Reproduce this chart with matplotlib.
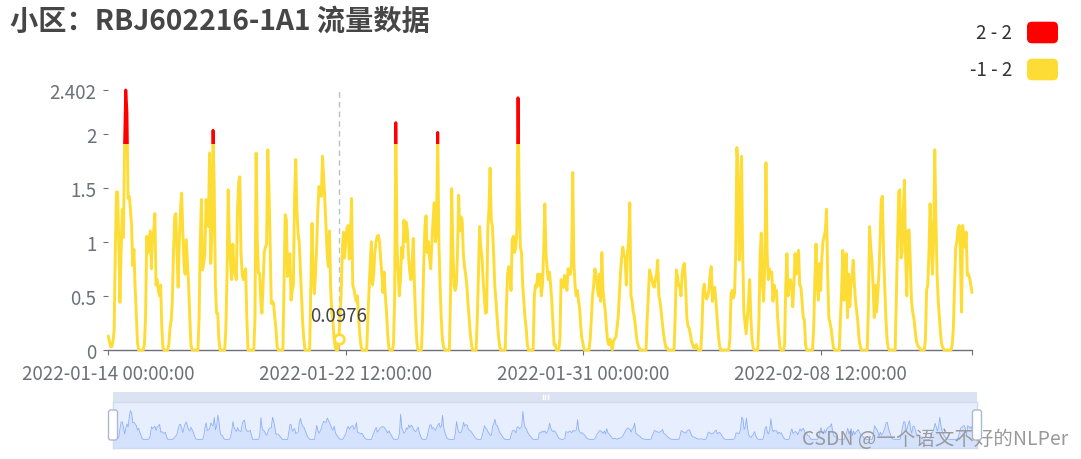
import numpy as np
import pandas as pd
import matplotlib
matplotlib.use('Agg')
import matplotlib.pyplot as plt
import matplotlib.dates as mdates
from matplotlib.patches import Rectangle, FancyBboxPatch
from matplotlib.lines import Line2D
from matplotlib.transforms import IdentityTransform

plt.rcParams['font.family'] = ['Noto Sans CJK SC', 'DejaVu Sans']

# ---------------- data ----------------
title_text = '小区：RBJ602216-1A1 流量数据'
start_time = '2022-01-14 00:00:00'
x_tick_labels = ['2022-01-14 00:00:00', '2022-01-22 12:00:00',
                 '2022-01-31 00:00:00', '2022-02-08 12:00:00']
y_ticks = [0, 0.5, 1, 1.5, 2, 2.402]
y_tick_labels = ['0', '0.5', '1', '1.5', '2', '2.402']
piece_labels = ['2 - 2', '-1 - 2']
piece_colors = ['#FF0000', '#FDDD35']
threshold = 1.9
hover_time = '2022-01-22 06:00:00'
hover_value = 0.0976
watermark = 'CSDN @一个语文不好的NLPer'

# hourly flow values, one list per day
jan14 = [0.13, 0.08, 0.03, 0.03, 0.08, 0.18, 0.9, 1.46, 1.46, 1.0, 0.44, 0.9, 1.3, 1.04, 1.9, 2.402, 2.2, 1.4, 1.42, 1.3, 1.15, 0.78, 0.93, 0.59]
jan15 = [0.35, 0.08, 0, 0, 0, 0, 0, 0.05, 0.3, 1.05, 0.9, 1.0, 1.1, 0.75, 1.05, 1.1, 1.26, 0.6, 0.65, 0.55, 0.5, 0.6, 0.2, 0.02]
jan16 = [0, 0, 0, 0, 0.05, 0.2, 0.27, 0.45, 0.9, 1.23, 1.26, 0.9, 0.58, 1.0, 1.3, 1.45, 1.1, 0.8, 0.7, 1.02, 0.8, 0.6, 0.3, 0.05]
jan17 = [0, 0, 0, 0, 0, 0, 0.3, 1.0, 1.39, 0.74, 0.8, 0.9, 1.39, 1.2, 1.14, 1.82, 0.8, 1.1, 2.03, 1.5, 0.6, 0.34, 0.34, 0.1]
jan18 = [0, 0, 0, 0, 0, 0.2, 0.7, 1.48, 1.0, 0.8, 0.65, 0.98, 0.75, 0.7, 0.65, 1.3, 1.55, 1.6, 0.9, 0.7, 0.65, 0.71, 0.75, 0.3]
jan19 = [0, 0, 0, 0, 0, 0, 0.3, 1.82, 1.0, 0.71, 0.71, 0.45, 0.34, 0.61, 0.9, 0.95, 0.98, 1.85, 1.5, 1.0, 0.43, 0.45, 0.43, 0.3]
jan20 = [0.2, 0.03, 0, 0, 0, 0, 0, 0.6, 1.25, 1.2, 0.68, 0.8, 0.89, 0.46, 0.55, 0.6, 1.4, 1.76, 1.3, 1.08, 1.0, 0.75, 0.5, 0.25]
jan21 = [0.1, 0, 0, 0, 0, 0, 0.6, 1.17, 0.71, 0.52, 0.7, 0.95, 1.3, 1.51, 1.45, 1.42, 1.79, 1.6, 1.39, 1.14, 0.9, 0.77, 1.1, 0.58]
jan22 = [0.35, 0.27, 0.1, 0.02, 0, 0, 0.0976, 0.3, 0.5, 0.9, 1.09, 0.85, 1.0, 1.12, 1.15, 0.84, 1.0, 1.4, 0.6, 0.56, 0.5, 0.45, 0.5, 0.3]
jan23 = [0.15, 0.04, 0, 0, 0, 0, 0, 0.3, 0.55, 0.8, 1.0, 0.6, 0.7, 0.9, 1.0, 1.05, 1.06, 1.0, 0.85, 0.7, 0.53, 0.72, 0.5, 0.35]
jan24 = [0.15, 0.02, 0, 0, 0, 0.05, 0.5, 2.1, 1.0, 0.7, 0.5, 0.65, 0.95, 0.85, 1.2, 1.0, 1.18, 1.1, 0.85, 0.72, 0.65, 0.8, 1.03, 0.6]
jan25 = [0.3, 0.08, 0, 0, 0, 0, 0.3, 0.8, 1.15, 1.24, 0.9, 1.0, 0.85, 0.75, 1.0, 1.2, 1.36, 1.0, 1.1, 2.01, 1.0, 0.6, 0.3, 0.1]
jan26 = [0.03, 0, 0, 0, 0, 0, 0.5, 1.49, 0.95, 0.6, 0.55, 0.6, 0.9, 1.43, 1.1, 1.23, 1.2, 0.9, 0.77, 0.7, 0.6, 0.43, 0.3, 0.15]
jan27 = [0.05, 0, 0, 0, 0, 0.3, 0.7, 1.14, 0.95, 0.86, 0.65, 0.5, 0.34, 0.35, 1.1, 1.3, 1.68, 1.2, 1.14, 0.9, 0.6, 0.46, 0.3, 0.15]
jan28 = [0.05, 0, 0, 0, 0, 0, 0.4, 0.7, 0.77, 0.7, 0.55, 1.02, 1.05, 0.9, 0.95, 1.1, 2.33, 1.4, 0.95, 0.9, 0.6, 0.45, 0.3, 0.2]
jan29 = [0.05, 0, 0, 0, 0, 0, 0.5, 0.6, 0.58, 0.7, 0.6, 0.7, 0.5, 0.6, 0.9, 1.35, 0.9, 0.75, 0.65, 0.72, 0.6, 0.45, 0.25, 0.05]
jan30 = [0.05, 0, 0, 0, 0.1, 0.65, 0.6, 0.58, 0.69, 0.65, 0.55, 0.75, 0.7, 0.7, 0.8, 1.64, 0.8, 0.6, 0.5, 0.55, 0.45, 0.37, 0.2, 0.1]
jan31 = [0.05, 0, 0, 0, 0, 0, 0.1, 0.29, 0.5, 0.6, 0.75, 0.7, 0.6, 0.5, 0.7, 0.45, 0.9, 0.55, 0.45, 0.35, 0.2, 0.08, 0.05, 0.1]
feb01 = [0.05, 0.0, 0.08, 0.1, 0.12, 0.2, 0.3, 0.5, 0.7, 0.85, 0.95, 0.88, 0.85, 0.6, 0.9, 1.0, 1.36, 0.5, 0.45, 0.35, 0.3, 0.2, 0.1, 0.05]
feb02 = [0.02, 0, 0, 0, 0, 0, 0, 0.3, 0.52, 0.74, 0.7, 0.65, 0.6, 0.58, 0.65, 0.7, 0.83, 0.5, 0.45, 0.35, 0.25, 0.15, 0.08, 0.02]
feb03 = [0.02, 0, 0, 0, 0, 0, 0, 0.3, 0.74, 0.68, 0.6, 0.58, 0.5, 0.7, 0.78, 0.8, 0.58, 0.3, 0.22, 0.2, 0.15, 0.08, 0.05, 0.02]
feb04 = [0.02, 0.05, 0.02, 0, 0, 0, 0.2, 0.55, 0.61, 0.5, 0.47, 0.5, 0.55, 0.7, 0.77, 0.45, 0.55, 0.58, 0.45, 0.3, 0.15, 0.05, 0, 0]
feb05 = [0, 0, 0, 0, 0, 0, 0.1, 0.52, 0.55, 0.48, 0.52, 0.9, 1.87, 1.7, 0.83, 1.0, 1.79, 0.9, 0.35, 0.25, 0.15, 0.3, 0.45, 0.65]
feb06 = [0.3, 0.1, 0.02, 0, 0, 0, 0, 0.3, 0.9, 1.08, 0.6, 0.45, 0.8, 1.73, 0.9, 0.65, 0.75, 0.7, 0.72, 0.45, 0.6, 0.5, 0.55, 0.3]
feb07 = [0.15, 0.02, 0, 0, 0, 0.05, 0.6, 0.89, 0.5, 0.6, 0.65, 0.6, 0.4, 0.6, 0.89, 0.7, 0.85, 0.92, 0.6, 0.58, 0.45, 0.3, 0.28, 0.05]
feb08 = [0, 0, 0, 0, 0, 0, 0.2, 0.65, 0.98, 0.6, 0.46, 0.8, 0.55, 0.85, 1.0, 1.05, 1.1, 1.3, 0.7, 0.3, 0.25, 0.2, 0.1, 0.02]
feb09 = [0, 0, 0, 0, 0, 0.3, 0.55, 0.92, 0.46, 0.7, 0.89, 0.3, 0.7, 0.4, 0.6, 0.7, 0.83, 0.6, 0.45, 0.35, 0.25, 0.1, 0.03, 0]
feb10 = [0, 0, 0, 0, 0, 0.4, 1.14, 0.95, 0.83, 0.6, 0.3, 0.6, 0.35, 0.5, 0.7, 1.0, 1.39, 1.42, 0.9, 0.6, 0.3, 0.1, 0.02, 0]
feb11 = [0, 0, 0, 0, 0, 0.5, 1.0, 1.46, 1.48, 0.85, 0.9, 1.3, 1.57, 0.85, 0.5, 1.1, 1.11, 0.8, 0.46, 0.35, 0.3, 0.2, 0.1, 0.05]
feb12 = [0.03, 0.02, 0, 0, 0, 0, 0.1, 0.55, 0.6, 0.9, 1.35, 1.05, 0.7, 1.0, 1.85, 1.2, 0.7, 0.45, 0.3, 0.15, 0.05, 0.02, 0, 0]
feb13 = [0, 0, 0, 0, 0, 0.05, 0.2, 0.6, 0.95, 1.0, 1.12, 1.15, 0.9, 0.35, 1.15, 1.03, 0.95, 1.09, 0.69, 0.7, 0.66, 0.6, 0.53]

days = [jan14, jan15, jan16, jan17, jan18, jan19, jan20, jan21, jan22, jan23,
        jan24, jan25, jan26, jan27, jan28, jan29, jan30, jan31, feb01, feb02,
        feb03, feb04, feb05, feb06, feb07, feb08, feb09, feb10, feb11, feb12, feb13]
flow = np.concatenate([np.asarray(d, dtype=float) for d in days])
times = pd.date_range(start_time, periods=len(flow), freq='h')
tnum = mdates.date2num(times.to_pydatetime())

# ---------------- figure ----------------
W, H = 1081, 460
fig = plt.figure(figsize=(W / 100, H / 100), dpi=100)
fig.patch.set_facecolor('white')

def fx(x):
    return x / W

def fy(y):
    return 1 - y / H

axis_gray = '#6E7079'
ax = fig.add_axes([fx(108.3), fy(351), (972 - 108.3) / W, (351 - 91) / H])
ax.set_xlim(tnum[0], tnum[-1])
ax.set_ylim(0, max(y_ticks))
for s in ['top', 'right', 'left']:
    ax.spines[s].set_visible(False)
ax.spines['bottom'].set_color(axis_gray)
ax.spines['bottom'].set_linewidth(1)

tick_pos = list(mdates.date2num(pd.to_datetime(x_tick_labels).to_pydatetime())) + [tnum[-1]]
ax.set_xticks(tick_pos)
ax.set_xticklabels(x_tick_labels + [''])
ax.set_yticks(y_ticks)
ax.set_yticklabels(y_tick_labels)
ax.tick_params(axis='x', length=3.6, width=0.8, color=axis_gray, pad=5.5,
               labelsize=13.5, labelcolor=axis_gray)
ax.tick_params(axis='y', length=3.6, width=0.8, color=axis_gray, pad=5.0,
               labelsize=13.5, labelcolor=axis_gray)

lw = 2.1
ymax_clip = 10
low_line, = ax.plot(tnum, flow, color=piece_colors[1], lw=lw,
                    solid_joinstyle='round', solid_capstyle='round', zorder=3)
low_clip = Rectangle((tnum[0] - 10, -5), tnum[-1] - tnum[0] + 20, 5 + threshold,
                     transform=ax.transData)
low_line.set_clip_path(low_clip)
high_line, = ax.plot(tnum, flow, color=piece_colors[0], lw=lw,
                     solid_joinstyle='round', solid_capstyle='round', zorder=3)
high_clip = Rectangle((tnum[0] - 10, threshold), tnum[-1] - tnum[0] + 20, ymax_clip,
                      transform=ax.transData)
high_line.set_clip_path(high_clip)

# hover pointer
th = mdates.date2num(pd.Timestamp(hover_time).to_pydatetime())
ax.axvline(th, ymin=0, ymax=1, color='#B9BECB', lw=1, ls=(0, (4, 3)), zorder=2)
ax.plot([th], [hover_value], 'o', ms=7, mfc='white', mec=piece_colors[1], mew=2,
        zorder=5, clip_on=False)
ax.annotate(f'{hover_value}', (th, hover_value), xytext=(0, 17),
            textcoords='offset points', ha='center', va='center',
            fontsize=13.5, color='#444444', zorder=6)

# title
fig.text(fx(10), fy(22), title_text, fontsize=20.3, fontweight='bold',
         color='#464646', ha='left', va='center')

# visual map legend
ident = IdentityTransform()
for i, (lab, col) in enumerate(zip(piece_labels, piece_colors)):
    yc = 33.5 + i * 37
    fig.text(fx(1012), fy(yc), lab, fontsize=13.5, color='#333333',
             ha='right', va='center')
    box = FancyBboxPatch((1027, H - (yc + 10.8)), 31, 21.6,
                         boxstyle='round,pad=0,rounding_size=5',
                         transform=ident, facecolor=col, edgecolor='none')
    fig.add_artist(box)

# ---------------- data zoom slider ----------------
sx0, sx1, sy0, sy1 = 113, 977, 403, 449
sax = fig.add_axes([fx(sx0), fy(sy1), (sx1 - sx0) / W, (sy1 - sy0) / H])
dmax = flow.max()
pad = 0.3 * dmax
sax.set_xlim(tnum[0], tnum[-1])
sax.set_ylim(-pad, dmax + pad)
sax.set_facecolor((135 / 255, 175 / 255, 1.0, 0.2))
sax.fill_between(tnum, flow, -pad, color='#8FB0F7', alpha=0.2, lw=0)
sax.plot(tnum, flow, color='#8FB0F7', lw=0.6)
sax.set_xticks([])
sax.set_yticks([])
for s in sax.spines.values():
    s.set_color('#D2DBEE')
    s.set_linewidth(1)

move_bar = Rectangle((sx0, H - sy0), sx1 - sx0, 10, transform=ident,
                     facecolor='#D2DBEE', alpha=0.8, edgecolor='none')
fig.add_artist(move_bar)
for dx in (-2.5, 0, 2.5):
    fig.add_artist(Line2D([545 + dx, 545 + dx], [H - 400, H - 396],
                          transform=ident, color='white', lw=1))

for cx in (sx0, sx1):
    handle = FancyBboxPatch((cx - 4.5, H - 441), 9, 30,
                            boxstyle='round,pad=0,rounding_size=2.5',
                            transform=ident, facecolor='white',
                            edgecolor='#ACB8D1', lw=1, zorder=10)
    fig.add_artist(handle)

# watermark
fig.text(fx(1068), fy(440), watermark, fontsize=14, color='#9A9A9A',
         ha='right', va='center')

fig.savefig('out.png', dpi=100, facecolor='white')
